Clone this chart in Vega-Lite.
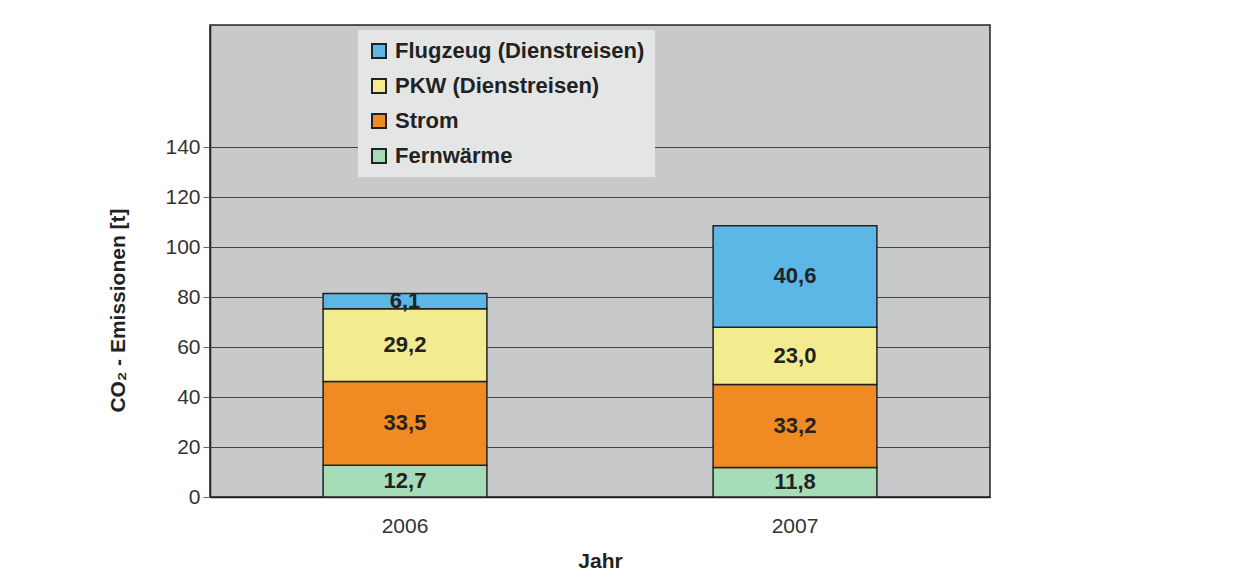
{
  "$schema": "https://vega.github.io/schema/vega-lite/v6.json",
  "autosize": {"type": "none"},
  "width": 780,
  "height": 472,
  "padding": {"left": 210, "top": 25, "right": 262, "bottom": 86},
  "background": "white",
  "config": {
    "locale": {"number": {"decimal": ",", "thousands": ".", "grouping": [3], "currency": ["", " €"]}},
    "font": "Liberation Sans",
    "view": {"fill": "#c8c9cb", "stroke": "#222", "strokeWidth": 1.5}
  },
  "data": {
    "values": [
      {"Jahr": "2006", "Quelle": "Fernwärme", "Wert": 12.7, "ord": 1},
      {"Jahr": "2006", "Quelle": "Strom", "Wert": 33.5, "ord": 2},
      {"Jahr": "2006", "Quelle": "PKW (Dienstreisen)", "Wert": 29.2, "ord": 3},
      {"Jahr": "2006", "Quelle": "Flugzeug (Dienstreisen)", "Wert": 6.1, "ord": 4},
      {"Jahr": "2007", "Quelle": "Fernwärme", "Wert": 11.8, "ord": 1},
      {"Jahr": "2007", "Quelle": "Strom", "Wert": 33.2, "ord": 2},
      {"Jahr": "2007", "Quelle": "PKW (Dienstreisen)", "Wert": 23.0, "ord": 3},
      {"Jahr": "2007", "Quelle": "Flugzeug (Dienstreisen)", "Wert": 40.6, "ord": 4}
    ]
  },
  "encoding": {
    "x": {
      "field": "Jahr", "type": "nominal",
      "scale": {"paddingInner": 0.58, "paddingOuter": 0.29},
      "axis": {
        "title": "Jahr", "labelAngle": 0, "labelFontSize": 21, "labelColor": "#333",
        "labelPadding": 18, "titleFontSize": 21, "titleFontWeight": "bold", "titleColor": "#222",
        "titlePadding": 14, "ticks": false,
        "domainColor": "#222", "domainWidth": 1.5
      }
    },
    "y": {
      "field": "Wert", "type": "quantitative", "stack": "zero",
      "scale": {"domain": [0, 189], "nice": false},
      "axis": {
        "title": "CO₂  - Emissionen [t]", "values": [0, 20, 40, 60, 80, 100, 120, 140],
        "labelFontSize": 21, "labelColor": "#333", "labelPadding": 3,
        "tickColor": "#666", "tickSize": 7,
        "gridColor": "#444", "gridWidth": 1, "grid": true,
        "titleFontSize": 21, "titleFontWeight": "bold", "titleColor": "#222",
        "titleY": 285, "titlePadding": 36,
        "domainColor": "#222", "domainWidth": 1.5
      }
    },
    "order": {"field": "ord", "type": "quantitative"}
  },
  "layer": [
    {
      "mark": {"type": "bar", "stroke": "#222", "strokeWidth": 1.5},
      "encoding": {
        "color": {
          "field": "Quelle", "type": "nominal",
          "scale": {
            "domain": ["Flugzeug (Dienstreisen)", "PKW (Dienstreisen)", "Strom", "Fernwärme"],
            "range": ["#5cb6e6", "#f2eb90", "#f08a22", "#a7dcb9"]
          },
          "legend": {
            "title": null, "orient": "none", "legendX": 148, "legendY": 5,
            "direction": "vertical",
            "fillColor": "#e4e6e6", "padding": 10,
            "symbolType": "square", "symbolSize": 196, "symbolStrokeColor": "#222",
            "symbolStrokeWidth": 2, "symbolOpacity": 1,
            "labelFontSize": 22, "labelFontWeight": "bold", "labelColor": "#222",
            "rowPadding": 13, "labelOffset": 5, "labelLimit": 400
          }
        }
      }
    },
    {
      "mark": {"type": "text", "fontSize": 22, "fontWeight": "bold", "color": "#222", "baseline": "middle"},
      "encoding": {
        "y": {"field": "Wert", "type": "quantitative", "stack": "zero", "bandPosition": 0.5},
        "text": {"field": "Wert", "type": "quantitative", "format": ".1f"}
      }
    }
  ]
}
